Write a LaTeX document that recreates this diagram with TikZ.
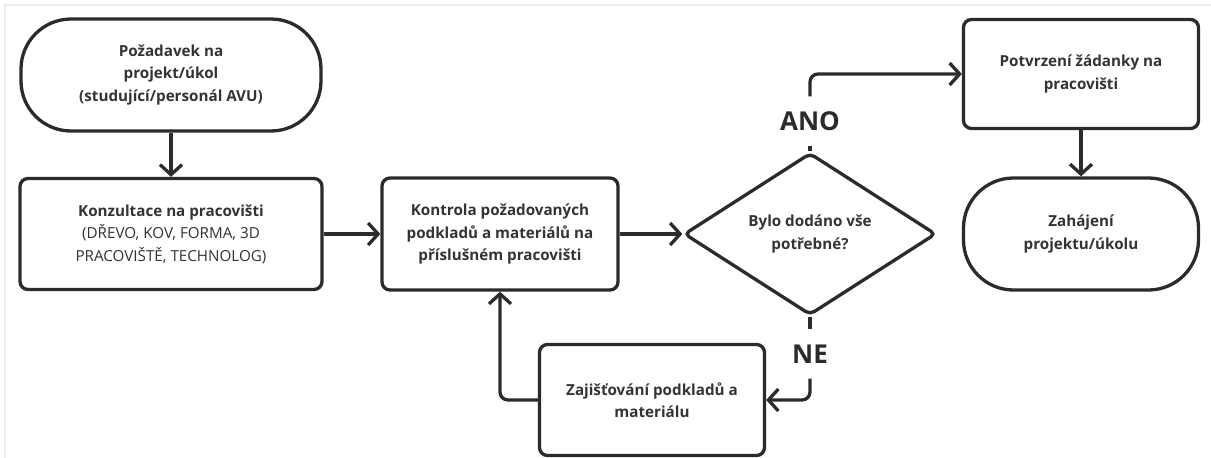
\documentclass[tikz,border=0pt]{standalone}
\usepackage{fontspec}
\setmainfont{Open Sans}
\usepackage{tikz}
\usetikzlibrary{arrows.meta,%
                shapes.geometric}
\definecolor{linegray}{HTML}{2B2B2B}
\definecolor{textgray}{HTML}{333333}
\definecolor{framegray}{HTML}{EDEDED}

\begin{document}
\begin{tikzpicture}[
x=1pt, y=-1pt,
line width=3.3pt,
box/.style={draw=linegray, fill=white, rounded corners=8pt, align=center,
  text=textgray, font=\fontsize{15.2}{22.5}\selectfont\bfseries},
term/.style={box, rounded corners=50pt},
decision/.style={box, diamond, aspect=1.55, rounded corners=5pt,
  minimum width=252pt, minimum height=162pt},
answer/.style={text=linegray, font=\fontsize{26}{26}\selectfont\bfseries,
  minimum height=46pt, inner sep=0pt},
arr/.style={draw=linegray, -{Straight Barb[length=10pt,width=22pt]}}]
\useasboundingbox (0,0) rectangle (1211,458);
\draw [framegray, line width=1.5pt] (5,458) -- (5,5) -- (1211,5);

\node [term, minimum width=300pt, minimum height=112pt] (start) at (171,75)
  {Požadavek na\\ projekt/úkol\\ (studující/personál AVU)};
\node [box, minimum width=302pt, minimum height=111pt] (konz) at (171,234)
  {Konzultace na pracovišti\\
   {\mdseries (DŘEVO, KOV, FORMA, 3D}\\
   {\mdseries PRACOVIŠTĚ, TECHNOLOG)}};
\node [box, minimum width=236pt, minimum height=112pt] (kontrola) at (500,234)
  {Kontrola požadovaných\\ podkladů a materiálů na\\ příslušném pracovišti};
\node [decision] (check) at (810,234) {Bylo dodáno vše\\ potřebné?};
\node [answer] (ano) at (810,121) {ANO};
\node [answer] (ne) at (810,354) {NE};
\node [box, minimum width=235pt, minimum height=109pt] (potvr) at (1081,74)
  {Potvrzení žádanky na\\ pracovišti};
\node [term, minimum width=235pt, minimum height=112pt] (zah) at (1081,234)
  {Zahájení\\ projektu/úkolu};
\node [box, minimum width=225pt, minimum height=111pt] (zaj) at (652,400)
  {Zajišťování podkladů a\\ materiálu};

\draw [arr] (start) -- (konz);
\draw [arr] (konz) -- (kontrola);
\draw [arr] (kontrola) -- (check);
\draw [linegray] (check) -- (ano);
\draw [arr, rounded corners=8pt] (ano) |- (potvr);
\draw [linegray] (check) -- (ne);
\draw [arr, rounded corners=8pt] (ne) |- (zaj);
\draw [arr, rounded corners=8pt] (zaj) -| (kontrola);
\draw [arr] (potvr) -- (zah);
\end{tikzpicture}
\end{document}
